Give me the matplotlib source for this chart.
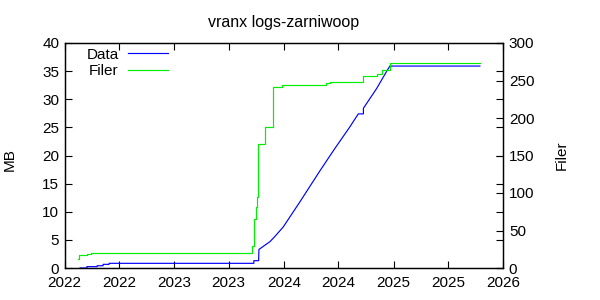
import matplotlib
matplotlib.use("Agg")
import matplotlib.pyplot as plt
import matplotlib.dates as mdates
import pandas as pd

plt.rcParams['font.family'] = ['Liberation Sans', 'DejaVu Sans']

title = "vranx logs-zarniwoop"

# Data (MB, left axis) - read points, joined by straight segments
data_dates = ["2022-02-21", "2022-03-16", "2022-03-16", "2022-04-19", "2022-04-19",
              "2022-05-09", "2022-05-09", "2022-05-29", "2022-05-29",
              "2023-09-23", "2023-09-23", "2023-10-09", "2023-10-10",
              "2023-11-16", "2023-12-02", "2023-12-30", "2024-02-24", "2024-04-28",
              "2024-06-17", "2024-08-08", "2024-09-05", "2024-09-22", "2024-09-22",
              "2024-11-05", "2024-12-11", "2024-12-19", "2025-10-15"]
data_mb = [0.0, 0.0, 0.24, 0.24, 0.4,
           0.4, 0.65, 0.65, 0.83,
           0.83, 1.3, 1.3, 3.3,
           4.7, 5.6, 7.3, 11.8, 17.1,
           21.1, 25.1, 27.4, 27.4, 28.4,
           31.9, 35.2, 35.9, 35.9]

# Filer (count, right axis) - step data
filer_dates = ["2022-02-14", "2022-02-17", "2022-03-15", "2022-03-29",
               "2023-09-18", "2023-09-24", "2023-09-29", "2023-10-03", "2023-10-06",
               "2023-10-31", "2023-11-27", "2023-12-25", "2024-05-20", "2024-06-03",
               "2024-09-22", "2024-11-05", "2024-11-23", "2024-12-19", "2025-10-15"]
filer_vals = [11.6, 17.3, 18.7, 20.4,
              29.7, 66, 82, 95, 165,
              188, 241, 244, 246.4, 248,
              256.4, 258.7, 263.5, 273.5, 273.5]

xlim = ["2022-01-01", "2026-01-01"]
y1_ticks = [0, 5, 10, 15, 20, 25, 30, 35, 40]
y2_ticks = [0, 50, 100, 150, 200, 250, 300]

fig = plt.figure(figsize=(6, 3), dpi=100)
ax = fig.add_axes([64.7/600, 1-268/300, (503.3-64.7)/600, (268-43)/300])
ax2 = ax.twinx()

dd = pd.to_datetime(data_dates)
fd = pd.to_datetime(filer_dates)
l1, = ax.plot(dd, data_mb, color='#0000ff', lw=0.85, label='Data')
l2, = ax2.plot(fd, filer_vals, drawstyle='steps-post', color='#00ee00', lw=0.85, label='Filer')

ax.set_xlim(pd.to_datetime(xlim[0]), pd.to_datetime(xlim[1]))
ax.set_ylim(0, 40)
ax2.set_ylim(0, 300)
ax.set_yticks(y1_ticks)
ax2.set_yticks(y2_ticks)
ax.xaxis.set_major_locator(mdates.MonthLocator(bymonth=[1, 7]))
ax.xaxis.set_major_formatter(mdates.DateFormatter('%Y'))

ax.tick_params(direction='in', length=5, width=0.8, top=True, right=True, labelsize=11, pad=4)
ax2.tick_params(direction='in', length=5, width=0.8, labelsize=11, pad=4)
ax.tick_params(axis='x', pad=6)
for a in (ax, ax2):
    for s in a.spines.values():
        s.set_linewidth(0.9)

fig.text(10/600, 1-160/300, "MB", rotation=90, ha='center', va='center', fontsize=11)
fig.text(562/600, 1-155/300, "Filer", rotation=90, ha='center', va='center', fontsize=11)
fig.text(284/600, 1-27.5/300, title, ha='center', va='baseline', fontsize=11.5)

ax.legend([l1, l2], ['Data', 'Filer'], loc='upper left', bbox_to_anchor=(0.036, 1.0067),
          frameon=False, markerfirst=False, handlelength=2.6, fontsize=11,
          labelspacing=0.17, borderaxespad=0.0, handletextpad=0.6)

fig.savefig("out.png", dpi=100)
